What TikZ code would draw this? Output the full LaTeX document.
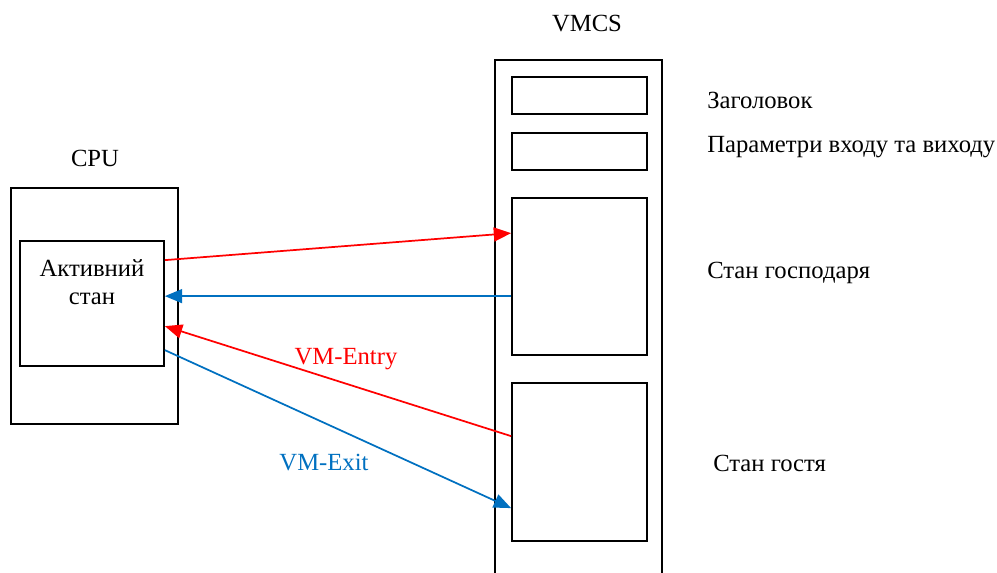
\documentclass[tikz,border=0pt]{standalone}
\usepackage{fontspec}
\setmainfont{Liberation Serif}
\usetikzlibrary{arrows.meta,calc}
\definecolor{exitblue}{RGB}{0,112,192}
\definecolor{entryred}{RGB}{255,0,0}

\begin{document}
\begin{tikzpicture}[x=0.75pt,y=-0.75pt,
  every node/.style={font=\fontsize{18.5}{21}\selectfont},
  box/.style={draw,line width=1.3pt,inner sep=0pt,minimum width=#1},
  box/.default=125.25pt,
  link/.style={line width=1.3pt,-{Triangle[length=13pt,width=10.5pt]}},
  txt/.style={anchor=west,inner sep=0pt}]
\useasboundingbox (0,0) rectangle (997,573);

% CPU side
\node[box,minimum height=177pt] (cpu) at (94.5,306) {};
\node[box=108pt,minimum height=93.75pt] (act) at (92,303.5) {};
\node[align=center,inner sep=0pt] (actlabel) at (92,282) {Активний\\стан};
\node (cpulabel) at (95,158) {CPU};

% VMCS side
\node[box,minimum height=405pt] (vmcs) at (578.5,330) {};
\node[box=101.25pt,minimum height=27.75pt] (hdr) at (579.5,95.5) {};
\node[box=101.25pt,minimum height=27.75pt] (ctl) at (579.5,151.5) {};
\node[box=101.25pt,minimum height=117.75pt] (host) at (579.5,276.5) {};
\node[box=101.25pt,minimum height=118.5pt] (guest) at (579.5,462) {};
\node (vmcslabel) at (587,24) {VMCS};

\node[txt] (hdrlabel) at (707,100) {Заголовок};
\node[txt] (ctllabel) at (707,147) {Параметри входу та виходу};
\node[txt] (hostlabel) at (707,273) {Стан господаря};
\node[txt] (guestlabel) at (713,463) {Стан гостя};

% transitions
\draw[link,entryred] ($(act.north east)+(0,20)$) -- ($(host.north west)+(0,36)$);
\draw[link,exitblue] ($(host.north west)+(0,99)$) -- ($(act.north east)+(0,56)$);
\draw[link,entryred] ($(guest.north west)+(0,54)$) -- ($(act.north east)+(0,86)$);
\draw[link,exitblue] ($(act.north east)+(0,110)$) -- ($(guest.north west)+(0,126)$);

\node[text=entryred] (entrylabel) at (346,359) {VM-Entry};
\node[text=exitblue] (exitlabel) at (324,463) {VM-Exit};
\end{tikzpicture}
\end{document}
